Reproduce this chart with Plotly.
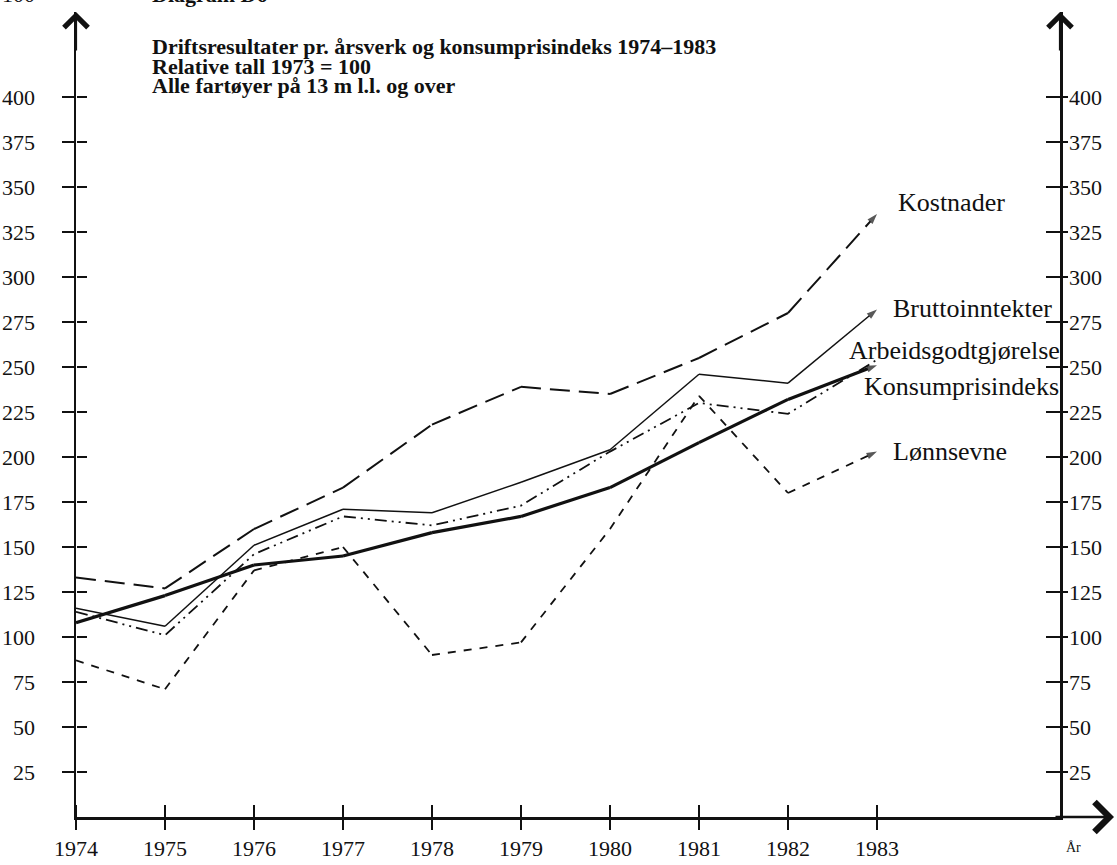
import plotly.graph_objects as go

# ---- data ----
years = [1974, 1975, 1976, 1977, 1978, 1979, 1980, 1981, 1982, 1983]
kostnader = [133, 127, 160, 183, 218, 239, 235, 255, 280, 335]
bruttoinntekter = [116, 106, 151, 171, 169, 186, 204, 246, 241, 282]
arbeidsgodtgjorelse = [114, 101, 146, 167, 162, 173, 203, 230, 224, 254]
konsumprisindeks = [108, 123, 140, 145, 158, 167, 183, 208, 232, 251]
lonnsevne = [87, 71, 137, 150, 90, 97, 160, 234, 180, 203]

y_ticks = [25, 50, 75, 100, 125, 150, 175, 200, 225, 250, 275, 300, 325, 350, 375, 400]
x_ticklabels = [str(y) for y in years]

series_names = ["Kostnader", "Bruttoinntekter", "Arbeidsgodtgjørelse",
                "Konsumprisindeks", "Lønnsevne"]
title_lines = [
    "Driftsresultater pr. årsverk og konsumprisindeks 1974–1983",
    "Relative tall 1973 = 100",
    "Alle fartøyer på 13 m l.l. og over",
]

# ---- layout geometry ----
W, H = 1117, 865
ML, MR, MT, MB = 76, 57, 12, 48
PW, PH = W - ML - MR, H - MT - MB
XR = [1974, 1974 + PW / 89.0]
YR = [0, PH / 1.8]

SERIF = "Liberation Serif, Times New Roman, serif"
INK = "#111111"


def px_x(px):
    return (px - ML) / PW


def px_y(py):
    return (H - MB - py) / PH


fig = go.Figure()

styles = [
    dict(width=2.0, dash="20px,9px"),
    dict(width=1.5, dash="solid"),
    dict(width=1.8, dash="12px,5px,2px,5px,2px,5px"),
    dict(width=3.2, dash="solid"),
    dict(width=1.8, dash="8px,8px"),
]
arrow_end = [True, True, False, True, True]
values = [kostnader, bruttoinntekter, arbeidsgodtgjorelse, konsumprisindeks, lonnsevne]

for name, vals, st, arr in zip(series_names, values, styles, arrow_end):
    sizes = [0] * (len(years) - 1) + [11 if arr else 0]
    fig.add_trace(go.Scatter(
        x=years, y=vals, name=name, mode="lines+markers",
        line=dict(color=INK, width=st["width"], dash=st["dash"]),
        marker=dict(symbol="arrow", size=sizes, color=INK, angleref="previous",
                    line=dict(width=0)),
        cliponaxis=False, showlegend=False, hoverinfo="skip",
    ))

# empty traces so the extra (tick-only) axes are drawn
fig.add_trace(go.Scatter(x=[], y=[], xaxis="x2", yaxis="y", showlegend=False))
fig.add_trace(go.Scatter(x=[], y=[], xaxis="x", yaxis="y2", showlegend=False))
fig.add_trace(go.Scatter(x=[], y=[], xaxis="x", yaxis="y3", showlegend=False))
fig.add_trace(go.Scatter(x=[], y=[], xaxis="x", yaxis="y4", showlegend=False))

tickfont = dict(family=SERIF, size=22, color=INK)
common = dict(automargin=False, showgrid=False, zeroline=False, fixedrange=True)

fig.update_layout(
    template="none",
    width=W, height=H, autosize=False,
    margin=dict(l=ML, r=MR, t=MT, b=MB, pad=0, autoexpand=False),
    paper_bgcolor="white", plot_bgcolor="white",
    xaxis=dict(range=XR, tickvals=years, ticktext=x_ticklabels, ticks="outside",
               ticklen=10, tickwidth=2, tickcolor=INK, showline=True, linewidth=2.5,
               linecolor=INK, tickfont=tickfont, ticklabelstandoff=0, **common),
    xaxis2=dict(range=XR, overlaying="x", anchor="free", position=0, side="top",
                tickvals=years, ticks="outside", ticklen=12, tickwidth=2,
                tickcolor=INK, showticklabels=False, showline=False, **common),
    yaxis=dict(range=YR, tickvals=y_ticks, ticks="outside", ticklen=12, tickwidth=2,
               tickcolor=INK, showline=True, linewidth=2.5, linecolor=INK,
               tickfont=tickfont, ticklabelstandoff=22, **common),
    yaxis2=dict(range=YR, overlaying="y", side="right", anchor="x", tickvals=y_ticks,
                ticks="outside", ticklen=5, tickwidth=2, tickcolor=INK,
                showline=True, linewidth=2.5, linecolor=INK,
                tickfont=tickfont, ticklabelstandoff=-3, **common),
    yaxis3=dict(range=YR, overlaying="y", anchor="free", position=0, side="right",
                tickvals=y_ticks, ticks="outside", ticklen=10, tickwidth=2,
                tickcolor=INK, showticklabels=False, showline=False, **common),
    yaxis4=dict(range=YR, overlaying="y", anchor="free", position=1, side="left",
                tickvals=y_ticks, ticks="outside", ticklen=14, tickwidth=2,
                tickcolor=INK, showticklabels=False, showline=False, **common),
)

annotations = []

# axis arrowheads
for xp in (0, 1):
    annotations.append(dict(xref="paper", yref="paper", x=xp, y=1, ax=0, ay=40,
                            showarrow=True, arrowhead=4, arrowsize=2.1,
                            arrowwidth=2.2, arrowcolor=INK, text=""))
annotations.append(dict(xref="paper", yref="paper", x=px_x(1114), y=0, ax=-60, ay=0,
                        showarrow=True, arrowhead=4, arrowsize=2.3, arrowwidth=2.5,
                        arrowcolor=INK, text=""))

# series labels (left edge px, vertical centre px)
label_pos = [(896, 202), (891, 309), (847, 350), (862, 386), (891, 451)]
for name, (lx, ly) in zip(series_names, label_pos):
    annotations.append(dict(xref="paper", yref="paper", x=px_x(lx), y=px_y(ly),
                            xanchor="left", yanchor="middle", showarrow=False,
                            text=name, font=dict(family=SERIF, size=26, color=INK)))

# title lines
for txt, py in zip(title_lines, (47, 66, 85)):
    annotations.append(dict(xref="paper", yref="paper", x=px_x(150), y=px_y(py),
                            xanchor="left", yanchor="middle", showarrow=False,
                            text="<b>" + txt + "</b>",
                            font=dict(family=SERIF, size=22, color=INK)))

# cut-off text at the very top of the scan
annotations.append(dict(xref="paper", yref="paper", x=px_x(150), y=px_y(9),
                        xanchor="left", yanchor="bottom", showarrow=False,
                        text="<b>Diagram D6</b>", font=dict(family=SERIF, size=22, color=INK)))
annotations.append(dict(xref="paper", yref="paper", x=px_x(0), y=px_y(9),
                        xanchor="left", yanchor="bottom", showarrow=False,
                        text="100", font=dict(family=SERIF, size=22, color=INK)))

# axis unit label
annotations.append(dict(xref="paper", yref="paper", x=px_x(1064), y=px_y(847),
                        xanchor="left", yanchor="middle", showarrow=False,
                        text="År", font=dict(family=SERIF, size=14, color=INK)))

fig.update_layout(annotations=annotations)

fig.write_html("out.html",
               config={"displayModeBar": False, "staticPlot": True},
               post_script="document.body.style.margin='0';document.body.style.padding='0';")
